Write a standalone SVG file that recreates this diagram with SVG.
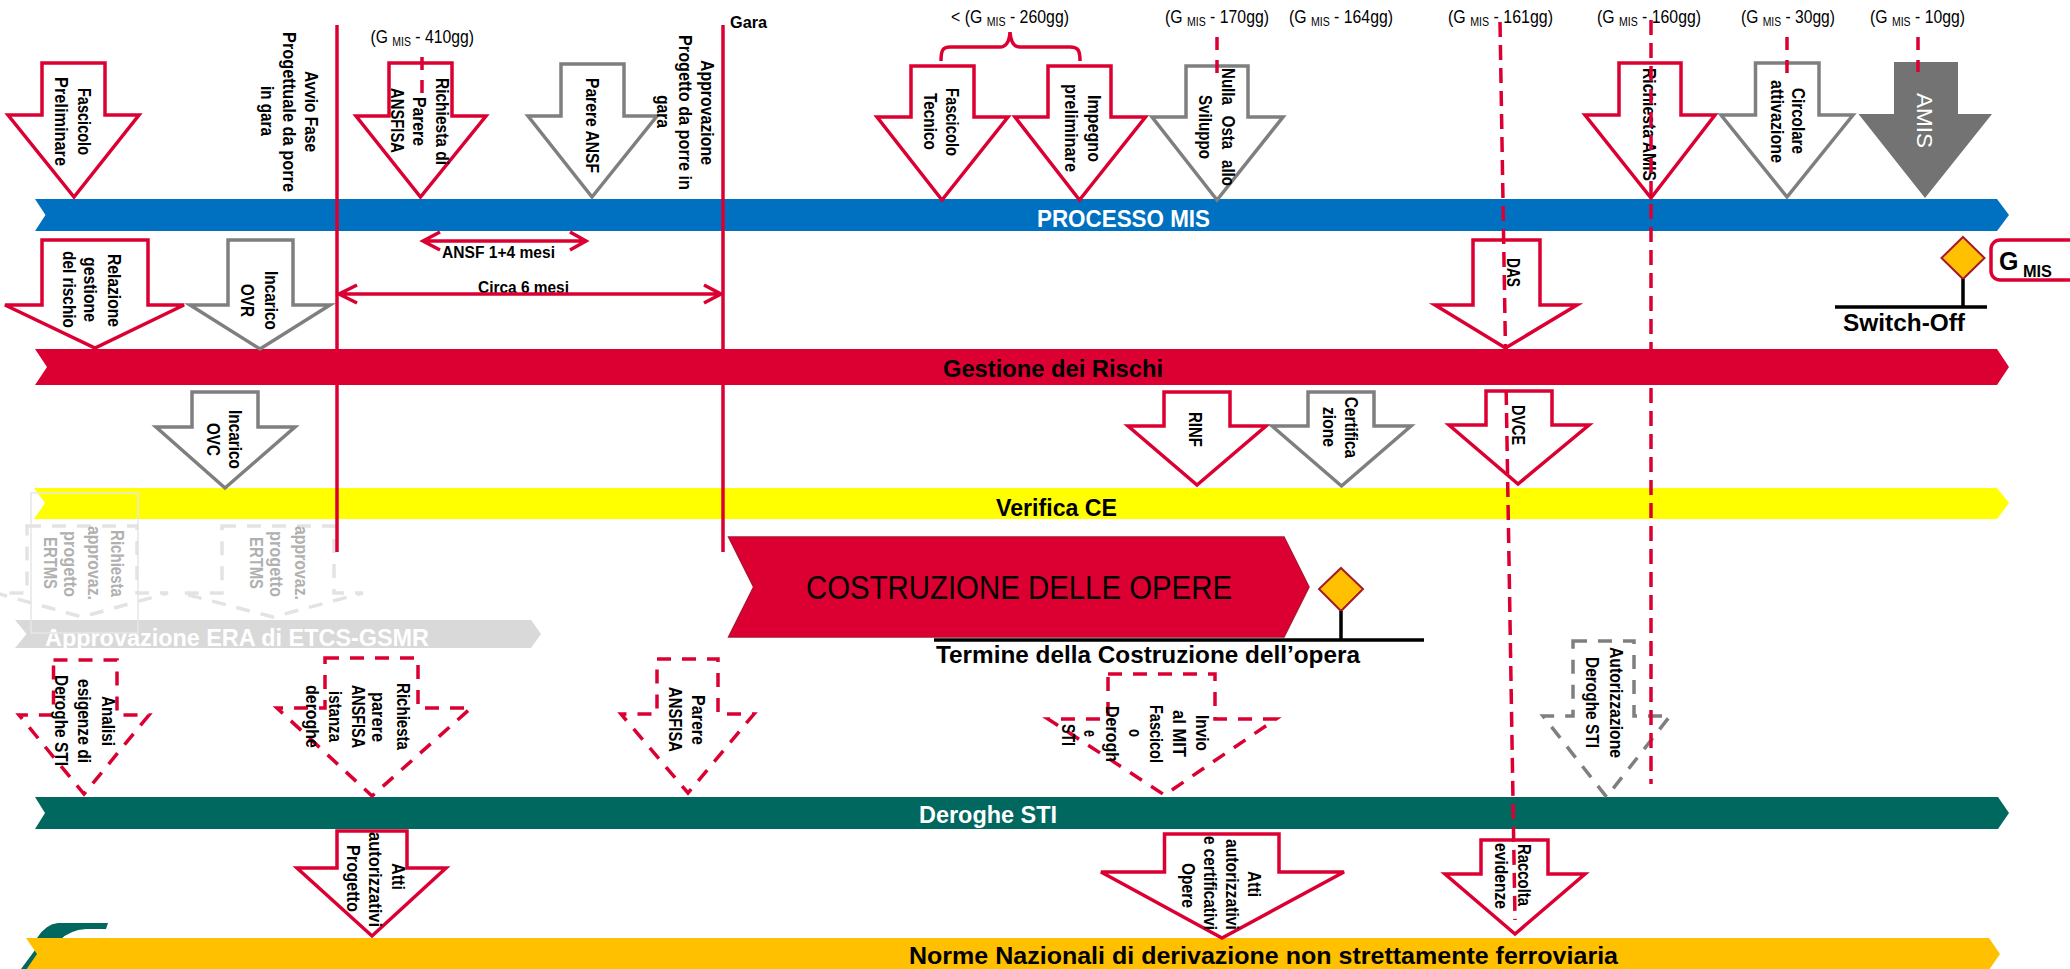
<svg xmlns="http://www.w3.org/2000/svg" width="2070" height="969" viewBox="0 0 2070 969">
<style>
text{font-family:"Liberation Sans",Arial,sans-serif;fill:#000}
.v{font-size:18px;font-weight:700}
.g{font-size:18px;font-weight:700;fill:#b0b0b0}
.t{font-size:18px}
.s{font-size:12px}
.b{font-size:24px;font-weight:700}
.w{fill:#fff}
.m{font-size:16px;font-weight:700}
.r,.y,.rd,.yd,.gd{stroke-width:3.5;fill:#fff;stroke-linejoin:miter}
.r,.rd{stroke:#dc0032}
.y,.yd{stroke:#7f7f7f}
.rd,.yd,.gd{stroke-dasharray:14 11}
.gd{stroke:#e3e3e3;fill:none}
.ln{stroke:#dc0032;stroke-width:3.5;fill:none}
.da{stroke:#dc0032;stroke-width:3.5;fill:none;stroke-dasharray:15 8}
.db{stroke:#dc0032;stroke-width:3.5;fill:none;stroke-dasharray:13 10}
.k{stroke:#000;stroke-width:3.5;fill:none}
.dm{fill:#ffc000;stroke:#a5192e;stroke-width:2}
</style>
<g id="logo">
<path d="M108,923 L58,923 Q46,924 37,938 L60,950 L70,938 Q76,931 88,930 L106,929 Z" fill="#00685f"/>
<path d="M103,929 L86,929 Q70,930 60,940 L80,940 L102,935 Z" fill="#fff"/>
<path d="M21,969 L38,946 L50,969 Z" fill="#00685f"/>
</g>
<g id="bands">
<g id="band-mis"><polygon points="35,199 1997,199 2009,215 1997,231 35,231 45.500,215" fill="#0070c0"/><text class="b w" x="1037" y="227" textLength="173" lengthAdjust="spacingAndGlyphs">PROCESSO MIS</text></g>
<g id="band-rischi"><polygon points="35,349 1997,349 2009,367 1997,385 35,385 47,367" fill="#dc0032"/><text class="b" x="943" y="377" textLength="220" lengthAdjust="spacingAndGlyphs">Gestione dei Rischi</text></g>
<g id="band-ce"><polygon points="34,488 1997,488 2009,503 1997,519 34,519 45,503" fill="#ff0"/><text class="b" x="996" y="516" textLength="121" lengthAdjust="spacingAndGlyphs">Verifica CE</text></g>
<g id="band-era"><polygon points="15,620 531,620 541,634 531,648 15,648 26.500,634" fill="#d9d9d9"/><text class="b w" x="45" y="646" textLength="384" lengthAdjust="spacingAndGlyphs">Approvazione ERA di ETCS-GSMR</text></g>
<g id="band-deroghe"><polygon points="35,797 1998,797 2009,813 1998,829 35,829 45,813" fill="#00685f"/><text class="b w" x="919" y="823" textLength="138" lengthAdjust="spacingAndGlyphs">Deroghe STI</text></g>
<g id="band-norme"><polygon points="26,938 1989,938 2000,954 1989,970 26,970 37,954" fill="#ffc000"/><text class="b" x="909" y="964" textLength="709" lengthAdjust="spacingAndGlyphs">Norme Nazionali di derivazione non  strettamente ferroviaria</text></g>
</g>
<g id="ghost-frame"><rect x="31" y="493" width="107" height="140" fill="none" stroke="#e6e6e6" stroke-width="1.500"/></g>
<g id="n-fascicolo-prel"><polygon class="r" points="42,63 105,63 105,115 139,115 74,197 8,115 42,115"/><text class="v" transform="translate(78,88) rotate(90)" textLength="67" lengthAdjust="spacingAndGlyphs">Fascicolo</text><text class="v" transform="translate(54.500,77) rotate(90)" textLength="89" lengthAdjust="spacingAndGlyphs">Preliminare</text></g>
<g id="n-avvio"><text class="v" transform="translate(304.500,71) rotate(90)" textLength="81" lengthAdjust="spacingAndGlyphs">Avvio Fase</text><text class="v" transform="translate(283,32) rotate(90)" textLength="160" lengthAdjust="spacingAndGlyphs">Progettuale da porre</text><text class="v" transform="translate(261,86) rotate(90)" textLength="50" lengthAdjust="spacingAndGlyphs">in gara</text></g>
<g id="n-richiesta-ansfisa"><polygon class="r" points="389,63 452,63 452,116 486,116 420.500,197 356,116 389,116"/><text class="v" transform="translate(436,78) rotate(90)" textLength="87" lengthAdjust="spacingAndGlyphs">Richiesta di</text><text class="v" transform="translate(413,97) rotate(90)" textLength="49" lengthAdjust="spacingAndGlyphs">Parere</text><text class="v" transform="translate(391,88) rotate(90)" textLength="65" lengthAdjust="spacingAndGlyphs">ANSFISA</text></g>
<g id="n-parere-ansf"><polygon class="y" points="561,64 624,64 624,116 657,116 592,197 528,116 561,116"/><text class="v" transform="translate(586,78) rotate(90)" textLength="95" lengthAdjust="spacingAndGlyphs">Parere ANSF</text></g>
<g id="n-approvazione"><text class="v" transform="translate(701,60) rotate(90)" textLength="105" lengthAdjust="spacingAndGlyphs">Approvazione</text><text class="v" transform="translate(679,35) rotate(90)" textLength="155" lengthAdjust="spacingAndGlyphs">Progetto da porre in</text><text class="v" transform="translate(657,95) rotate(90)" textLength="33" lengthAdjust="spacingAndGlyphs">gara</text></g>
<g id="n-fascicolo-tec"><polygon class="r" points="911,66 974,66 974,117 1008,117 942,200 877,117 911,117"/><text class="v" transform="translate(946,88) rotate(90)" textLength="68" lengthAdjust="spacingAndGlyphs">Fascicolo</text><text class="v" transform="translate(924,93) rotate(90)" textLength="57" lengthAdjust="spacingAndGlyphs">Tecnico</text></g>
<g id="n-impegno"><polygon class="r" points="1048,66 1111,66 1111,117 1145.500,117 1079.500,200 1015,117 1048,117"/><text class="v" transform="translate(1088,95) rotate(90)" textLength="67" lengthAdjust="spacingAndGlyphs">Impegno</text><text class="v" transform="translate(1065,84) rotate(90)" textLength="88" lengthAdjust="spacingAndGlyphs">preliminare</text></g>
<g id="n-nulla"><polygon class="y" points="1186,66 1248,66 1248,117 1283,117 1217,200 1152,117 1186,117"/><text class="v" style="word-spacing:8px" transform="translate(1222,68) rotate(90)" textLength="118" lengthAdjust="spacingAndGlyphs">Nulla Osta allo</text><text class="v" transform="translate(1199,95) rotate(90)" textLength="64" lengthAdjust="spacingAndGlyphs">Sviluppo</text></g>
<g id="n-richiesta-amis"><polygon class="r" points="1619,63 1681,63 1681,115 1715,115 1651,198 1585,115 1619,115"/><text class="v" transform="translate(1643,68) rotate(90)" textLength="113" lengthAdjust="spacingAndGlyphs">Richiesta AMIS</text></g>
<g id="n-circolare"><polygon class="y" points="1755.500,63 1819,63 1819,115 1853,115 1787,197 1721,115 1755.500,115"/><text class="v" transform="translate(1792,88) rotate(90)" textLength="66" lengthAdjust="spacingAndGlyphs">Circolare</text><text class="v" transform="translate(1771,80) rotate(90)" textLength="83" lengthAdjust="spacingAndGlyphs">attivazione</text></g>
<g id="n-amis"><polygon points="1894,62 1958,62 1958,114 1992,114 1925,198 1858.500,114 1894,114" fill="#737373"/><text class="w" style="font-size:22px;font-weight:400" transform="translate(1917,93) rotate(90)" textLength="55" lengthAdjust="spacingAndGlyphs">AMIS</text></g>
<g id="n-relazione"><polygon class="r" points="42,240 148,240 148,305 184,305 95,348 5,305 42,305"/><text class="v" transform="translate(107.500,254) rotate(90)" textLength="73" lengthAdjust="spacingAndGlyphs">Relazione</text><text class="v" transform="translate(84,257) rotate(90)" textLength="65" lengthAdjust="spacingAndGlyphs">gestione</text><text class="v" transform="translate(63,251) rotate(90)" textLength="77" lengthAdjust="spacingAndGlyphs">del rischio</text></g>
<g id="n-incarico-ovr"><polygon class="y" points="228,240 293,240 293,305 330,305 260,349 190,305 228,305"/><text class="v" transform="translate(265,271) rotate(90)" textLength="59" lengthAdjust="spacingAndGlyphs">Incarico</text><text class="v" transform="translate(241,284) rotate(90)" textLength="33" lengthAdjust="spacingAndGlyphs">OVR</text></g>
<g id="n-das"><polygon class="r" points="1473,240 1540,240 1540,305 1577,305 1505.500,348 1435,305 1473,305"/><text class="v" transform="translate(1507,258) rotate(90)" textLength="29" lengthAdjust="spacingAndGlyphs">DAS</text></g>
<g id="n-incarico-ovc"><polygon class="y" points="192,392 258,392 258,427 295,427 225,488 156,427 192,427"/><text class="v" transform="translate(229,410) rotate(90)" textLength="59" lengthAdjust="spacingAndGlyphs">Incarico</text><text class="v" transform="translate(207,423) rotate(90)" textLength="33" lengthAdjust="spacingAndGlyphs">OVC</text></g>
<g id="n-rinf"><polygon class="r" points="1164,392 1230,392 1230,426 1266,426 1197,485 1128,426 1164,426"/><text class="v" transform="translate(1189,412) rotate(90)" textLength="35" lengthAdjust="spacingAndGlyphs">RINF</text></g>
<g id="n-certifica"><polygon class="y" points="1308,392 1374,392 1374,426 1411,426 1341.500,486 1272,426 1308,426"/><text class="v" transform="translate(1345,397) rotate(90)" textLength="61" lengthAdjust="spacingAndGlyphs">Certifica</text><text class="v" transform="translate(1323,407) rotate(90)" textLength="40" lengthAdjust="spacingAndGlyphs">zione</text></g>
<g id="n-dvce"><polygon class="r" points="1486,391 1552,391 1552,425 1589,425 1518,484 1449,425 1486,425"/><text class="v" transform="translate(1512,405) rotate(90)" textLength="40" lengthAdjust="spacingAndGlyphs">DVCE</text></g>
<g id="n-ghost1"><polygon class="gd" points="27,526 137,526 137,593 168,593 82,617 -4,593 27,593"/><text class="g" transform="translate(111,530) rotate(90)" textLength="67" lengthAdjust="spacingAndGlyphs">Richiesta</text><text class="g" transform="translate(88,526) rotate(90)" textLength="74" lengthAdjust="spacingAndGlyphs">approvaz.</text><text class="g" transform="translate(64,531) rotate(90)" textLength="66" lengthAdjust="spacingAndGlyphs">progetto</text><text class="g" transform="translate(44,537) rotate(90)" textLength="52" lengthAdjust="spacingAndGlyphs">ERTMS</text></g>
<g id="n-ghost2"><polygon class="gd" points="222,526 334,526 334,593 363,593 273,617 181,593 222,593"/><text class="g" transform="translate(295,526) rotate(90)" textLength="74" lengthAdjust="spacingAndGlyphs">approvaz.</text><text class="g" transform="translate(270,531) rotate(90)" textLength="66" lengthAdjust="spacingAndGlyphs">progetto</text><text class="g" transform="translate(250,537) rotate(90)" textLength="52" lengthAdjust="spacingAndGlyphs">ERTMS</text></g>
<g id="n-costruzione"><polygon points="728.600,537 1284,537 1309,587 1284,637 728.600,637 753.600,587" fill="#dc0032" stroke="#b3122f" stroke-width="1.500"/><text style="font-size:33px" x="806" y="599" textLength="426" lengthAdjust="spacingAndGlyphs">COSTRUZIONE DELLE OPERE</text></g>
<g id="n-termine"><polygon class="dm" points="1341,568 1363,589 1341,611 1319,589"/><path class="k" d="M1341,611 V640 M934,640 H1424"/><text class="b" x="936" y="663" textLength="424" lengthAdjust="spacingAndGlyphs">Termine della Costruzione dell’opera</text></g>
<g id="n-switchoff"><polygon class="dm" points="1963,237 1984.500,258 1963,279 1941.500,258"/><path class="k" d="M1963,279 V307 M1835,307 H1987"/><text class="b" x="1843" y="331" textLength="122" lengthAdjust="spacingAndGlyphs">Switch-Off</text></g>
<g id="n-gmis"><rect x="1991" y="240" width="110" height="40" rx="9" fill="#fff" stroke="#dc0032" stroke-width="3.500"/><text style="font-size:25px;font-weight:700" x="1999" y="270">G</text><text class="m" x="2023" y="277" textLength="29" lengthAdjust="spacingAndGlyphs">MIS</text></g>
<g id="n-analisi"><polygon class="rd" points="53.500,660 117,660 117,715 149,715 84,794 19,715 53.500,715"/><text class="v" transform="translate(102,696) rotate(90)" textLength="50" lengthAdjust="spacingAndGlyphs">Analisi</text><text class="v" transform="translate(78,679) rotate(90)" textLength="84" lengthAdjust="spacingAndGlyphs">esigenze di</text><text class="v" transform="translate(55,675) rotate(90)" textLength="91" lengthAdjust="spacingAndGlyphs">Deroghe STI</text></g>
<g id="n-richiesta-parere"><polygon class="rd" points="325,658 418,658 418,708 471,708 372,796 277,708 325,708"/><text class="v" transform="translate(396.500,683) rotate(90)" textLength="67" lengthAdjust="spacingAndGlyphs">Richiesta</text><text class="v" transform="translate(372,692) rotate(90)" textLength="50" lengthAdjust="spacingAndGlyphs">parere</text><text class="v" transform="translate(352,685) rotate(90)" textLength="63" lengthAdjust="spacingAndGlyphs">ANSFISA</text><text class="v" transform="translate(329,691) rotate(90)" textLength="51" lengthAdjust="spacingAndGlyphs">istanza</text><text class="v" transform="translate(306,685) rotate(90)" textLength="63" lengthAdjust="spacingAndGlyphs">deroghe</text></g>
<g id="n-parere-ansfisa"><polygon class="rd" points="657,659 718,659 718,714 754,714 688,793 621,714 657,714"/><text class="v" transform="translate(691.500,695) rotate(90)" textLength="50" lengthAdjust="spacingAndGlyphs">Parere</text><text class="v" transform="translate(669,687) rotate(90)" textLength="65" lengthAdjust="spacingAndGlyphs">ANSFISA</text></g>
<g id="n-invio"><polygon class="rd" points="1108,674 1215,674 1215,719 1276,719 1164.500,795 1048,719 1108,719"/><text class="v" transform="translate(1196,715) rotate(90)" textLength="36" lengthAdjust="spacingAndGlyphs">Invio</text><text class="v" transform="translate(1173,710) rotate(90)" textLength="47" lengthAdjust="spacingAndGlyphs">al MIT</text><text class="v" transform="translate(1150,705) rotate(90)" textLength="58" lengthAdjust="spacingAndGlyphs">Fascicol</text><text class="v" transform="translate(1129,729) rotate(90)" textLength="8" lengthAdjust="spacingAndGlyphs">o</text><text class="v" transform="translate(1106,706) rotate(90)" textLength="56" lengthAdjust="spacingAndGlyphs">Derogh</text><text class="v" transform="translate(1084,730) rotate(90)" textLength="7" lengthAdjust="spacingAndGlyphs">e</text><text class="v" transform="translate(1062,724) rotate(90)" textLength="22" lengthAdjust="spacingAndGlyphs">STI</text></g>
<g id="n-autorizzazione"><polygon class="yd" points="1573,641 1634,641 1634,716 1670,716 1606.500,797 1543,716 1573,716"/><text class="v" transform="translate(1610,647) rotate(90)" textLength="111" lengthAdjust="spacingAndGlyphs">Autorizzazione</text><text class="v" transform="translate(1586,657) rotate(90)" textLength="91" lengthAdjust="spacingAndGlyphs">Deroghe STI</text></g>
<g id="n-atti-progetto"><polygon class="r" points="337,831 407,831 407,868 446,868 372,936 297,868 337,868"/><text class="v" transform="translate(392,863) rotate(90)" textLength="27" lengthAdjust="spacingAndGlyphs">Atti</text><text class="v" transform="translate(368.500,832) rotate(90)" textLength="95" lengthAdjust="spacingAndGlyphs">autorizzativi</text><text class="v" transform="translate(347,845) rotate(90)" textLength="67" lengthAdjust="spacingAndGlyphs">Progetto</text></g>
<g id="n-atti-opere"><polygon class="r" points="1164.500,834 1279,834 1279,872 1344,872 1222,938 1101,872 1164.500,872"/><text class="v" transform="translate(1248,871) rotate(90)" textLength="26" lengthAdjust="spacingAndGlyphs">Atti</text><text class="v" transform="translate(1226,839) rotate(90)" textLength="91" lengthAdjust="spacingAndGlyphs">autorizzativi</text><text class="v" transform="translate(1204,836) rotate(90)" textLength="94" lengthAdjust="spacingAndGlyphs">e certificativi</text><text class="v" transform="translate(1182,863) rotate(90)" textLength="45" lengthAdjust="spacingAndGlyphs">Opere</text></g>
<g id="n-raccolta"><polygon class="r" points="1481,840 1548,840 1548,874 1585,874 1515,934 1445,874 1481,874"/><text class="v" transform="translate(1518,844) rotate(90)" textLength="62" lengthAdjust="spacingAndGlyphs">Raccolta</text><text class="v" transform="translate(1495,843) rotate(90)" textLength="66" lengthAdjust="spacingAndGlyphs">evidenze</text></g>
<g id="labels">
<text class="t" x="370.500" y="43" textLength="103.500" lengthAdjust="spacingAndGlyphs">(G <tspan class="s" dy="3">MIS</tspan><tspan dy="-3"> - 410gg)</tspan></text>
<text class="t" x="951" y="23" textLength="118" lengthAdjust="spacingAndGlyphs">&lt; (G <tspan class="s" dy="3">MIS</tspan><tspan dy="-3"> - 260gg)</tspan></text>
<text class="t" x="1165" y="23" textLength="104" lengthAdjust="spacingAndGlyphs">(G <tspan class="s" dy="3">MIS</tspan><tspan dy="-3"> - 170gg)</tspan></text>
<text class="t" x="1289" y="23" textLength="104" lengthAdjust="spacingAndGlyphs">(G <tspan class="s" dy="3">MIS</tspan><tspan dy="-3"> - 164gg)</tspan></text>
<text class="t" x="1448" y="23" textLength="105" lengthAdjust="spacingAndGlyphs">(G <tspan class="s" dy="3">MIS</tspan><tspan dy="-3"> - 161gg)</tspan></text>
<text class="t" x="1597" y="23" textLength="104" lengthAdjust="spacingAndGlyphs">(G <tspan class="s" dy="3">MIS</tspan><tspan dy="-3"> - 160gg)</tspan></text>
<text class="t" x="1741" y="23" textLength="94" lengthAdjust="spacingAndGlyphs">(G <tspan class="s" dy="3">MIS</tspan><tspan dy="-3"> - 30gg)</tspan></text>
<text class="t" x="1870" y="23" textLength="95" lengthAdjust="spacingAndGlyphs">(G <tspan class="s" dy="3">MIS</tspan><tspan dy="-3"> - 10gg)</tspan></text>
<text class="m" x="730" y="28" textLength="37" lengthAdjust="spacingAndGlyphs">Gara</text>
<text class="m" x="442" y="258" textLength="113" lengthAdjust="spacingAndGlyphs">ANSF 1+4 mesi</text>
<text class="m" x="478" y="293" textLength="91" lengthAdjust="spacingAndGlyphs">Circa 6 mesi</text>
</g>
<g id="connectors">
<path class="ln" d="M337,25 V552"/>
<path class="ln" d="M723,25 V552"/>
<path class="ln" d="M423,241 H586 M440,232 L423,241 L440,250 M570,232 L586,241 L570,250"/>
<path class="ln" d="M339,294 H721 M357,285 L339,294 L357,303 M704,285 L721,294 L704,303"/>
<path class="ln" d="M941,61 C941,50 943,47 950,47 L1000,47 Q1009,47 1010,32 Q1011,47 1020,47 L1070,47 C1078,47 1080,50 1080,61"/>
<path class="db" d="M422,57 V97"/>
<path class="db" d="M1217,37 V75"/>
<path class="db" d="M1787,37 V73"/>
<path class="db" d="M1918,37 V72"/>
<path class="da" d="M1500,22 L1515,920"/>
<path class="da" d="M1651,20 V784"/>
</g>
</svg>
